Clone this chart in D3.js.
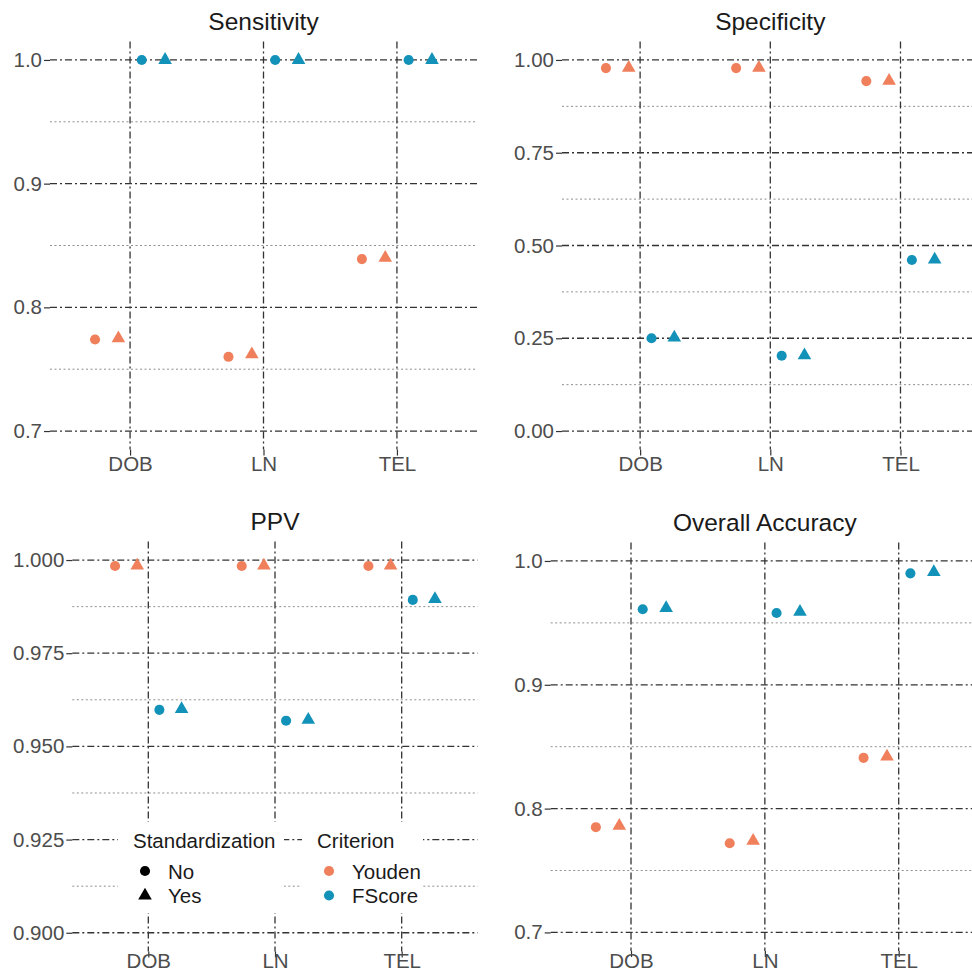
<!DOCTYPE html>
<html>
<head>
<meta charset="utf-8">
<script src="https://cdn.jsdelivr.net/npm/d3@7"></script>
<style>
  html, body { margin: 0; padding: 0; background: #fff; }
  svg { display: block; font-family: "Liberation Sans", Arial, sans-serif; }
</style>
</head>
<body>
<svg id="chart" width="972" height="975"></svg>
<script>
// ---------- DATA ----------
const categories = ["DOB", "LN", "TEL"];
const criteria = ["Youden", "FScore"];
const standardization = ["No", "Yes"];
const criterionColors = ["#F07F5C", "#1292B8"];

// values by category (DOB, LN, TEL)
const sensYoudenNo  = [0.774, 0.760, 0.839];
const sensYoudenYes = [0.775, 0.762, 0.840];
const sensFScoreNo  = [1.000, 1.000, 1.000];
const sensFScoreYes = [1.000, 1.000, 1.000];

const specYoudenNo  = [0.978, 0.978, 0.943];
const specYoudenYes = [0.979, 0.979, 0.944];
const specFScoreNo  = [0.250, 0.203, 0.461];
const specFScoreYes = [0.252, 0.204, 0.462];

const ppvYoudenNo  = [0.9984, 0.9984, 0.9984];
const ppvYoudenYes = [0.9985, 0.9985, 0.9985];
const ppvFScoreNo  = [0.9598, 0.9569, 0.9893];
const ppvFScoreYes = [0.9600, 0.9571, 0.9895];

const accYoudenNo  = [0.785, 0.772, 0.841];
const accYoudenYes = [0.786, 0.774, 0.842];
const accFScoreNo  = [0.961, 0.958, 0.990];
const accFScoreYes = [0.962, 0.959, 0.991];

const sensTicks = [0.7, 0.8, 0.9, 1.0];
const specTicks = [0.00, 0.25, 0.50, 0.75, 1.00];
const ppvTicks  = [0.900, 0.925, 0.950, 0.975, 1.000];
const accTicks  = [0.7, 0.8, 0.9, 1.0];

const sensMinor = [0.75, 0.85, 0.95];
const specMinor = [0.125, 0.375, 0.625, 0.875];
const ppvMinor  = [0.9125, 0.9375, 0.9625, 0.9875];
const accMinor  = [0.75, 0.85, 0.95];

// ---------- LAYOUT ----------
const panels = [
  { title: "Sensitivity", x0: 50, x1: 477, y0: 41.4, y1: 449.6, domain: [0.685, 1.015], ticks: sensTicks, minor: sensMinor, fmt: ".1f", xpad: 1,
    series: [sensYoudenNo, sensYoudenYes, sensFScoreNo, sensFScoreYes] },
  { title: "Specificity", x0: 562, x1: 978.6, y0: 41.4, y1: 449.6, domain: [-0.05, 1.05], ticks: specTicks, minor: specMinor, fmt: ".2f", xpad: 1,
    series: [specYoudenNo, specYoudenYes, specFScoreNo, specFScoreYes] },
  { title: "PPV", x0: 72.3, x1: 477.7, y0: 541.4, y1: 951.4, domain: [0.895, 1.005], ticks: ppvTicks, minor: ppvMinor, fmt: ".3f", xpad: -4,
    series: [ppvYoudenNo, ppvYoudenYes, ppvFScoreNo, ppvFScoreYes] },
  { title: "Overall Accuracy", x0: 550.7, x1: 979, y0: 542.4, y1: 951, domain: [0.685, 1.015], ticks: accTicks, minor: accMinor, fmt: ".1f", xpad: -4,
    series: [accYoudenNo, accYoudenYes, accFScoreNo, accFScoreYes] }
];

// series order: Youden/No, Youden/Yes, FScore/No, FScore/Yes
const seriesCrit = [0, 0, 1, 1];
const seriesStd  = [0, 1, 0, 1];
const dodgeWidth = 0.7;
const dodgeOffsets = [-3, -1, 1, 3].map(k => k * dodgeWidth / 8);

const svg = d3.select("#chart");
const majorColor = "#333333";
const minorColor = "#8f8f8f";
const majorDash = "7,3,2,3";
const minorDash = "2,2.5";
const tickFont = "20.5px";
const textColor = "#4D4D4D";

const circleSym = d3.symbol().type(d3.symbolCircle).size(80);
const triSym = d3.symbol().type(d3.symbolTriangle).size(80);

panels.forEach(p => {
  const x = d3.scalePoint().domain(categories).range([p.x0, p.x1]).padding(0.6);
  const step = x.step();
  const y = d3.scaleLinear().domain(p.domain).range([p.y1, p.y0]);
  const g = svg.append("g");

  // minor grid
  g.selectAll(".minor").data(p.minor).join("line")
    .attr("x1", p.x0).attr("x2", p.x1)
    .attr("y1", d => y(d)).attr("y2", d => y(d))
    .attr("stroke", minorColor).attr("stroke-width", 1)
    .attr("stroke-dasharray", minorDash);

  // major horizontal grid
  g.selectAll(".majorh").data(p.ticks).join("line")
    .attr("x1", p.x0).attr("x2", p.x1)
    .attr("y1", d => y(d)).attr("y2", d => y(d))
    .attr("stroke", majorColor).attr("stroke-width", 1.3)
    .attr("stroke-dasharray", majorDash);

  // major vertical grid
  g.selectAll(".majorv").data(categories).join("line")
    .attr("x1", d => x(d)).attr("x2", d => x(d))
    .attr("y1", p.y0).attr("y2", p.y1)
    .attr("stroke", majorColor).attr("stroke-width", 1.3)
    .attr("stroke-dasharray", majorDash);

  // y axis
  const yAxis = d3.axisLeft(y).tickValues(p.ticks).tickFormat(d3.format(p.fmt)).tickSize(6).tickPadding(2);
  const ya = g.append("g").attr("transform", `translate(${p.x0},0)`).call(yAxis);
  ya.select(".domain").remove();
  ya.selectAll(".tick line").attr("stroke", "#333").attr("stroke-width", 1.2);
  ya.selectAll(".tick text").attr("fill", textColor).style("font-size", tickFont)
    .attr("font-family", "Liberation Sans, Arial, sans-serif");

  // x axis
  const xAxis = d3.axisBottom(x).tickSize(6).tickPadding(p.xpad);
  const xa = g.append("g").attr("transform", `translate(0,${p.y1})`).call(xAxis);
  xa.select(".domain").remove();
  xa.selectAll(".tick line").attr("stroke", "#333").attr("stroke-width", 1.2);
  xa.selectAll(".tick text").attr("fill", textColor).style("font-size", tickFont)
    .attr("font-family", "Liberation Sans, Arial, sans-serif");

  // title
  g.append("text")
    .attr("x", (p.x0 + p.x1) / 2).attr("y", p.y0 - 11)
    .attr("text-anchor", "middle").attr("fill", "#1a1a1a")
    .style("font-size", "24.5px").text(p.title);

  // points
  p.series.forEach((vals, si) => {
    const sym = seriesStd[si] === 0 ? circleSym : triSym;
    g.selectAll(".pt" + si).data(categories).join("path")
      .attr("d", sym)
      .attr("transform", (c, i) => `translate(${x(c) + dodgeOffsets[si] * step},${y(vals[i])})`)
      .attr("fill", criterionColors[seriesCrit[si]]);
  });
});

// ---------- LEGEND (inside PPV panel) ----------
const lg = svg.append("g");
const boxes = [
  { x: 118, w: 166, title: "Standardization", labels: standardization, kind: "shape" },
  { x: 302, w: 121, title: "Criterion", labels: criteria, kind: "color" }
];
boxes.forEach(b => {
  lg.append("rect").attr("x", b.x).attr("y", 822).attr("width", b.w).attr("height", 91).attr("fill", "#fff");
  lg.append("text").attr("x", b.x + 15).attr("y", 847.5).attr("fill", "#1a1a1a")
    .style("font-size", "20.5px").text(b.title);
  b.labels.forEach((lab, i) => {
    const cy = 871 + i * 24.5;
    const sym = b.kind === "shape" ? (i === 0 ? circleSym : triSym) : circleSym;
    const fill = b.kind === "shape" ? "#000" : criterionColors[i];
    lg.append("path").attr("d", sym).attr("transform", `translate(${b.x + 27},${cy})`).attr("fill", fill);
    lg.append("text").attr("x", b.x + 50).attr("y", cy + 7.5).attr("fill", "#1a1a1a")
      .style("font-size", "20.5px").text(lab);
  });
});
</script>
</body>
</html>
